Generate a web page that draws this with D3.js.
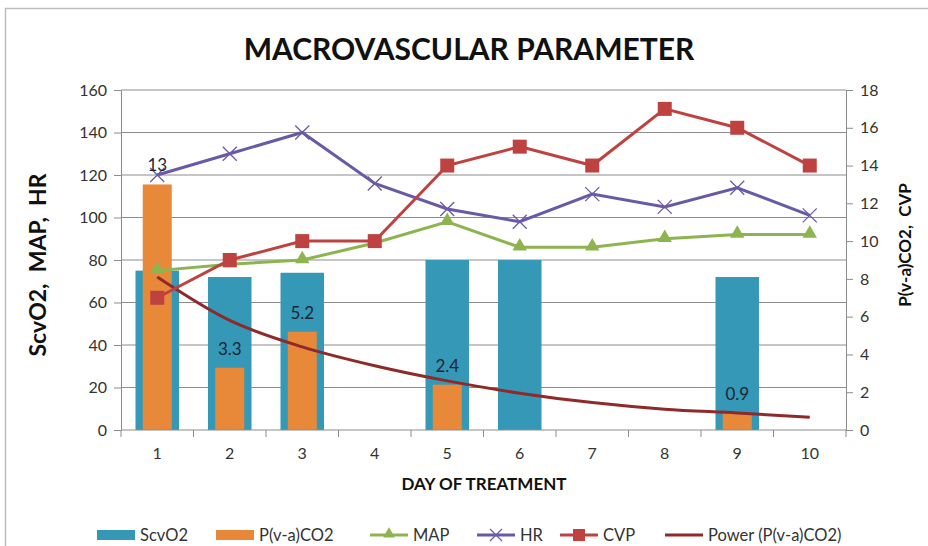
<!DOCTYPE html>
<head>
  <meta charset="utf-8">
  <script src="https://d3js.org/d3.v7.min.js"></script>
  <style>
    body { margin: 0; background: #fff; }
    text { font-family: 'Lato', 'Open Sans', sans-serif; white-space: pre; }
  </style>
</head>
<body>
  <div id="chart"></div>
  <script>
    // data
    var days = [1, 2, 3, 4, 5, 6, 7, 8, 9, 10];
    var scvo2 = [75, 72, 74, 0, 80, 80, 0, 0, 72, 0];
    var pco2 = [13, 3.3, 5.2, 0, 2.4, 0, 0, 0, 0.9, 0];
    var map = [75, 78, 80, 88, 98, 86, 86, 90, 92, 92];
    var hr = [120, 130, 140, 116, 104, 98, 111, 105, 114, 101];
    var cvp = [7, 9, 10, 10, 14, 15, 14, 17, 16, 14];
    var powerTrend = [8.1, 5.8, 4.4, 3.4, 2.6, 1.95, 1.45, 1.1, 0.9, 0.67];
    var leftTicks = [0, 20, 40, 60, 80, 100, 120, 140, 160];
    var rightTicks = [0, 2, 4, 6, 8, 10, 12, 14, 16, 18];

    var colors = {
      scvo2: '#3498B6', pco2: '#E8893A', map: '#8DB44F',
      hr: '#6A5AA6', cvp: '#BE4240', power: '#8E2A2A'
    };

    var width = 928, height = 546;
    var plot = {left: 121, right: 846, top: 90, bottom: 430};

    var svg = d3.select('#chart').append('svg')
      .attr('width', width)
      .attr('height', height);

    // chart frame
    svg.append('rect')
      .attr('x', 5.5).attr('y', 8.5)
      .attr('width', 940).attr('height', 560)
      .attr('fill', '#fff')
      .attr('stroke', '#BDBDBD')
      .attr('stroke-width', 1.5);

    var x = d3.scaleBand().domain(days).range([plot.left, plot.right]);
    var yL = d3.scaleLinear().domain([0, 160]).range([plot.bottom, plot.top]);
    var yR = d3.scaleLinear().domain([0, 18]).range([plot.bottom, plot.top]);
    var cx = d => x(d) + x.bandwidth() / 2;

    // gridlines
    svg.append('g')
      .selectAll('line')
      .data(leftTicks.slice(1))
      .enter().append('line')
      .attr('x1', plot.left).attr('x2', plot.right)
      .attr('y1', d => yL(d)).attr('y2', d => yL(d))
      .attr('stroke', '#8C8C8C').attr('stroke-width', 1);

    // left axis
    var leftAxis = svg.append('g')
      .attr('transform', `translate(${plot.left},0)`)
      .call(d3.axisLeft(yL).tickValues(leftTicks).tickSize(7).tickSizeOuter(0).tickPadding(7));
    // right axis
    var rightAxis = svg.append('g')
      .attr('transform', `translate(${plot.right},0)`)
      .call(d3.axisRight(yR).tickValues(rightTicks).tickSize(7).tickSizeOuter(0).tickPadding(7));

    [leftAxis, rightAxis].forEach(a => {
      a.select('.domain').attr('stroke', '#8C8C8C');
      a.selectAll('.tick line').attr('stroke', '#8C8C8C');
      a.selectAll('.tick text').attr('fill', '#333').style('font-size', '16px');
    });

    // bars
    var blueW = x.bandwidth() * 0.6, orangeW = x.bandwidth() * 0.4;
    svg.append('g')
      .selectAll('rect')
      .data(days.map((d, i) => ({day: d, v: scvo2[i]})).filter(d => d.v > 0))
      .enter().append('rect')
      .attr('x', d => cx(d.day) - blueW / 2)
      .attr('width', blueW)
      .attr('y', d => yL(d.v))
      .attr('height', d => plot.bottom - yL(d.v))
      .attr('fill', colors.scvo2);

    var orangeData = days.map((d, i) => ({day: d, v: pco2[i]})).filter(d => d.v > 0);
    svg.append('g')
      .selectAll('rect')
      .data(orangeData)
      .enter().append('rect')
      .attr('x', d => cx(d.day) - orangeW / 2)
      .attr('width', orangeW)
      .attr('y', d => yR(d.v))
      .attr('height', d => plot.bottom - yR(d.v))
      .attr('fill', colors.pco2);

    // x axis
    var xAxis = svg.append('g')
      .attr('transform', `translate(0,${plot.bottom})`);
    xAxis.append('line')
      .attr('x1', plot.left).attr('x2', plot.right)
      .attr('stroke', '#8C8C8C');
    xAxis.selectAll('.xt')
      .data(days.concat([11]))
      .enter().append('line')
      .attr('x1', d => d <= 10 ? x(d) : plot.right)
      .attr('x2', d => d <= 10 ? x(d) : plot.right)
      .attr('y1', 0).attr('y2', 7)
      .attr('stroke', '#8C8C8C');
    xAxis.selectAll('text')
      .data(days)
      .enter().append('text')
      .attr('x', d => cx(d))
      .attr('y', 29)
      .attr('text-anchor', 'middle')
      .attr('fill', '#333')
      .style('font-size', '16px')
      .text(d => d);

    // lines
    var lineL = d3.line().x((d, i) => cx(days[i])).y(d => yL(d));
    var lineR = d3.line().x((d, i) => cx(days[i])).y(d => yR(d));

    svg.append('path').datum(powerTrend)
      .attr('d', lineR.curve(d3.curveMonotoneX))
      .attr('fill', 'none').attr('stroke', colors.power).attr('stroke-width', 3);
    lineR.curve(d3.curveLinear);

    svg.append('path').datum(map)
      .attr('d', lineL)
      .attr('fill', 'none').attr('stroke', colors.map).attr('stroke-width', 3);
    svg.append('path').datum(hr)
      .attr('d', lineL)
      .attr('fill', 'none').attr('stroke', colors.hr).attr('stroke-width', 3);
    svg.append('path').datum(cvp)
      .attr('d', lineR)
      .attr('fill', 'none').attr('stroke', colors.cvp).attr('stroke-width', 3);

    // markers
    var tri = d3.symbol().type(d3.symbolTriangle).size(90);
    svg.append('g').selectAll('path')
      .data(map)
      .enter().append('path')
      .attr('d', tri)
      .attr('transform', (d, i) => `translate(${cx(days[i])},${yL(d) - 1})`)
      .attr('fill', colors.map);

    svg.append('g').selectAll('path')
      .data(hr)
      .enter().append('path')
      .attr('d', 'M-7,-7L7,7M-7,7L7,-7')
      .attr('transform', (d, i) => `translate(${cx(days[i])},${yL(d)})`)
      .attr('stroke', colors.hr).attr('stroke-width', 1.3).attr('fill', 'none');

    svg.append('g').selectAll('rect')
      .data(cvp)
      .enter().append('rect')
      .attr('x', (d, i) => cx(days[i]) - 7)
      .attr('y', d => yR(d) - 7)
      .attr('width', 14).attr('height', 14)
      .attr('fill', colors.cvp);

    // data labels for P(v-a)CO2
    svg.append('g').selectAll('text')
      .data(orangeData)
      .enter().append('text')
      .attr('x', d => cx(d.day))
      .attr('y', d => yR(d.v) - 13)
      .attr('text-anchor', 'middle')
      .attr('fill', '#1C2633')
      .style('font-size', '17px')
      .text(d => d.v);

    // titles
    svg.append('text')
      .attr('x', 469).attr('y', 60)
      .attr('text-anchor', 'middle')
      .style('font-size', '30px').style('font-weight', 'bold')
      .attr('fill', '#111')
      .text('MACROVASCULAR PARAMETER');

    svg.append('text')
      .attr('transform', 'translate(46,265) rotate(-90)')
      .attr('text-anchor', 'middle')
      .style('font-size', '23px').style('font-weight', 'bold')
      .attr('fill', '#111')
      .text('ScvO2,  MAP,  HR');

    svg.append('text')
      .attr('transform', 'translate(911,245) rotate(-90)')
      .attr('text-anchor', 'middle')
      .style('font-size', '17px').style('font-weight', 'bold')
      .attr('fill', '#111')
      .text('P(v-a)CO2,  CVP');

    svg.append('text')
      .attr('x', 484).attr('y', 490)
      .attr('text-anchor', 'middle')
      .style('font-size', '17px').style('font-weight', 'bold')
      .attr('fill', '#111')
      .text('DAY OF TREATMENT');

    // legend
    var legendItems = [
      {name: 'ScvO2', key: 'scvo2', type: 'bar', x: 97},
      {name: 'P(v-a)CO2', key: 'pco2', type: 'bar', x: 216},
      {name: 'MAP', key: 'map', type: 'tri', x: 370},
      {name: 'HR', key: 'hr', type: 'x', x: 477},
      {name: 'CVP', key: 'cvp', type: 'sq', x: 560},
      {name: 'Power (P(v-a)CO2)', key: 'power', type: 'line', x: 665}
    ];
    var ly = 535;
    var leg = svg.append('g').selectAll('g')
      .data(legendItems)
      .enter().append('g')
      .attr('transform', d => `translate(${d.x},${ly})`);
    leg.each(function (d) {
      var g = d3.select(this);
      var c = colors[d.key];
      if (d.type === 'bar') {
        g.append('rect').attr('x', 0).attr('y', -5).attr('width', 38).attr('height', 10).attr('fill', c);
      } else {
        g.append('line').attr('x1', 0).attr('x2', 38).attr('stroke', c).attr('stroke-width', 3);
        if (d.type === 'tri') g.append('path').attr('d', d3.symbol().type(d3.symbolTriangle).size(60)).attr('transform', 'translate(19,-1)').attr('fill', c);
        if (d.type === 'x') g.append('path').attr('d', 'M-6,-6L6,6M-6,6L6,-6').attr('transform', 'translate(19,0)').attr('stroke', c).attr('stroke-width', 1.2);
        if (d.type === 'sq') g.append('rect').attr('x', 13).attr('y', -6).attr('width', 12).attr('height', 12).attr('fill', c);
      }
      g.append('text')
        .attr('x', 43).attr('y', 6)
        .attr('fill', '#333')
        .style('font-size', '16.5px')
        .text(d.name);
    });
  </script>
</body>
